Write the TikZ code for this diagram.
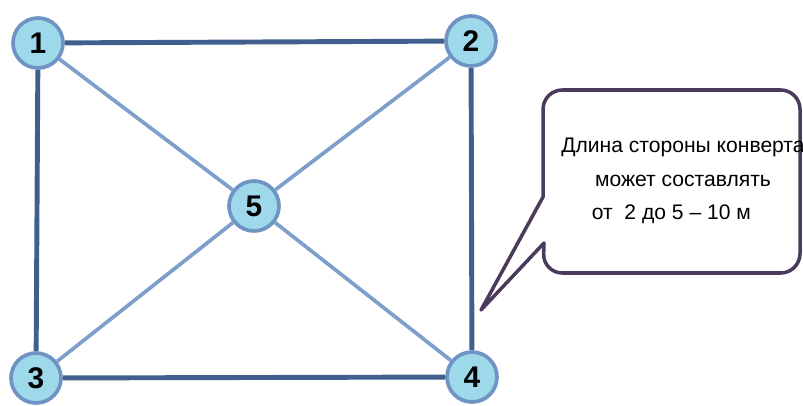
\documentclass[tikz,border=0pt]{standalone}
\usepackage{fontspec}
\setmainfont{Liberation Sans}
\usepackage{tikz}
\usetikzlibrary{positioning}

\definecolor{sidecol}{HTML}{3F5F8F}
\definecolor{diagcol}{HTML}{7E9FCB}
\definecolor{vfill}{HTML}{9DD9EA}
\definecolor{vline}{HTML}{6F93C3}
\definecolor{notecol}{HTML}{4A3B5C}

\tikzset{
  vertex/.style={circle,draw=vline,fill=vfill,line width=2.1pt,minimum size=1.0cm,inner sep=0pt,font=\fontsize{17}{19}\selectfont\bfseries},
  side/.style={draw=sidecol,line width=2.8pt},
  diag/.style={draw=diagcol,line width=2.1pt},
}

\begin{document}
\begin{tikzpicture}[x=0.02cm,y=-0.02cm]
\useasboundingbox (0,0) rectangle (803,405);

% callout
\draw[notecol,line width=2pt,line join=round]
  (481,310) -- (543,197) [rounded corners=11pt] -- (543,90) -- (800,90)
  -- (800,273) -- (543,273) [sharp corners] -- (544,243) -- cycle;
\node[align=center,font=\fontsize{12}{19}\selectfont] (note) at (683,181)
  {Длина стороны конверта\\может составлять\\от~ 2 до 5 – 10 м\hspace*{1.1em}};

% envelope
\node[vertex] (1) at (38,43) {1};
\node[vertex] (2) at (471,41) {2};
\node[vertex] (3) at (36,378) {3};
\node[vertex] (4) at (472,377) {4};
\node[vertex] (5) at (254,206) {5};

\draw[side] (1) -- (2);
\draw[side] (1) -- (3);
\draw[side] (2) -- (4);
\draw[side] (3) -- (4);
\draw[diag] (1) -- (5);
\draw[diag] (2) -- (5);
\draw[diag] (3) -- (5);
\draw[diag] (4) -- (5);
\end{tikzpicture}
\end{document}
